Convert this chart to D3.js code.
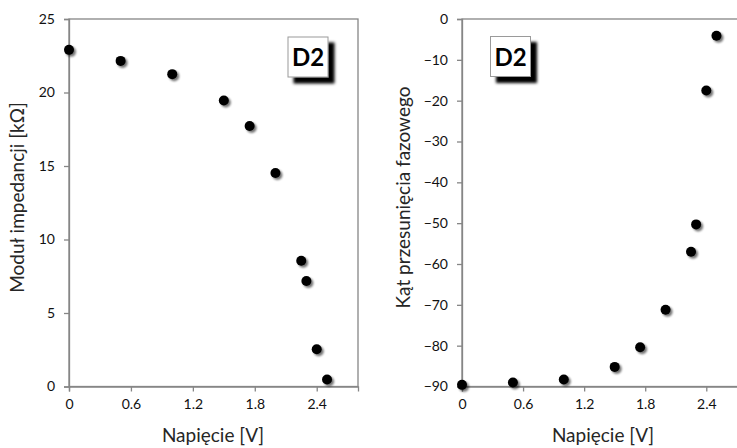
<!DOCTYPE html>
<html>
<head>
<meta charset="utf-8">
<script src="https://cdn.jsdelivr.net/npm/d3@7"></script>
<style>
  html, body { margin: 0; padding: 0; background: #fff; }
  svg { display: block; font-family: "Lato", "Open Sans", sans-serif; }
</style>
</head>
<body>
<div id="chart"></div>
<script>
/* Two scatter panels: impedance modulus and phase angle vs voltage (diode D2) */

const voltage   = [0, 0.5, 1.0, 1.5, 1.75, 2.0, 2.25, 2.3, 2.4, 2.5];
const impedance = [22.9, 22.15, 21.25, 19.45, 17.72, 14.52, 8.55, 7.18, 2.53, 0.48];
const phase     = [-89.6, -89.0, -88.3, -85.2, -80.4, -71.2, -57.0, -50.3, -17.5, -4.1];

const xTicks     = [0, 0.6, 1.2, 1.8, 2.4];
const impTicks   = [0, 5, 10, 15, 20, 25];
const phaseTicks = [0, -10, -20, -30, -40, -50, -60, -70, -80, -90];

const W = 737, H = 448;
const AXIS = '#868686';
const TEXT = '#262626';

const svg = d3.select('#chart').append('svg')
  .attr('width', W).attr('height', H);

// soft drop shadows (markers + label boxes)
const defs = svg.append('defs');
defs.append('filter').attr('id', 'dotShadow')
  .attr('x', '-50%').attr('y', '-50%').attr('width', '200%').attr('height', '200%')
  .html('<feGaussianBlur in="SourceAlpha" stdDeviation="1.3"/>' +
        '<feOffset dx="1.8" dy="1.8" result="o"/>' +
        '<feComponentTransfer><feFuncA type="linear" slope="0.55"/></feComponentTransfer>' +
        '<feMerge><feMergeNode/><feMergeNode in="SourceGraphic"/></feMerge>');
defs.append('filter').attr('id', 'boxShadow')
  .attr('x', '-30%').attr('y', '-30%').attr('width', '160%').attr('height', '160%')
  .html('<feGaussianBlur in="SourceAlpha" stdDeviation="1.8"/>' +
        '<feOffset dx="5.5" dy="5.5" result="o"/>' +
        '<feMerge><feMergeNode/><feMergeNode in="SourceGraphic"/></feMerge>');

function panel(opts) {
  const { left, right, top, bottom, yDomain, yTicks, yValues, yTitle, titleX, xTitleX, badge } = opts;

  const x = d3.scaleLinear().domain([0, 2.8]).range([left, right]);
  const y = d3.scaleLinear().domain(yDomain).range([bottom, top]);
  const g = svg.append('g');

  // plot frame
  g.append('rect')
    .attr('x', left).attr('y', top)
    .attr('width', right - left).attr('height', bottom - top)
    .attr('fill', 'none').attr('stroke', AXIS).attr('stroke-width', 1.3);

  const xAxis = g.append('g')
    .attr('transform', `translate(0,${bottom})`)
    .call(d3.axisBottom(x).tickValues(xTicks).tickSize(5).tickPadding(8)
      .tickFormat(d => d === 0 ? '0' : d3.format('.1f')(d)));

  const yAxis = g.append('g')
    .attr('transform', `translate(${left},0)`)
    .call(d3.axisLeft(y).tickValues(yTicks).tickSize(5).tickPadding(9));

  [xAxis, yAxis].forEach(a => {
    a.select('.domain').attr('stroke', AXIS).attr('stroke-width', 1.3);
    a.selectAll('.tick line').attr('stroke', AXIS).attr('stroke-width', 1.3);
    a.selectAll('.tick text')
      .attr('fill', '#111')
      .attr('font-size', 14)
      .attr('font-family', '"Lato", sans-serif');
  });

  // axis titles
  g.append('text')
    .attr('x', xTitleX).attr('y', 442)
    .attr('text-anchor', 'middle')
    .attr('font-size', 19).attr('fill', TEXT)
    .text('Napięcie [V]');

  g.append('text')
    .attr('transform', `translate(${titleX},197.5) rotate(-90)`)
    .attr('text-anchor', 'middle')
    .attr('font-size', 19).attr('fill', TEXT)
    .text(yTitle);

  // markers
  g.selectAll('circle.pt')
    .data(voltage.map((v, i) => ({ v, val: yValues[i] })))
    .join('circle').attr('class', 'pt')
    .attr('cx', d => x(d.v)).attr('cy', d => y(d.val))
    .attr('r', 5).attr('fill', '#000')
    .attr('filter', 'url(#dotShadow)');

  // "D2" badge
  const bg = g.append('g').attr('transform', `translate(${badge[0]},${badge[1]})`);
  bg.append('rect')
    .attr('width', 40).attr('height', 40)
    .attr('fill', '#fff').attr('stroke', '#9a9a9a').attr('stroke-width', 1)
    .attr('filter', 'url(#boxShadow)');
  bg.append('text')
    .attr('x', 20).attr('y', 29)
    .attr('text-anchor', 'middle')
    .attr('font-size', 24).attr('font-weight', 700).attr('fill', '#000')
    .text('D2');
}

panel({
  left: 69, right: 358, top: 19, bottom: 386.5,
  yDomain: [0, 25], yTicks: impTicks, yValues: impedance,
  yTitle: 'Moduł impedancji [kΩ]', titleX: 24, xTitleX: 213,
  badge: [288, 37]
});

panel({
  left: 462, right: 747, top: 19, bottom: 386.5,
  yDomain: [-90, 0], yTicks: phaseTicks, yValues: phase,
  yTitle: 'Kąt przesunięcia fazowego', titleX: 410, xTitleX: 603,
  badge: [490.5, 36.5]
});
</script>
</body>
</html>
